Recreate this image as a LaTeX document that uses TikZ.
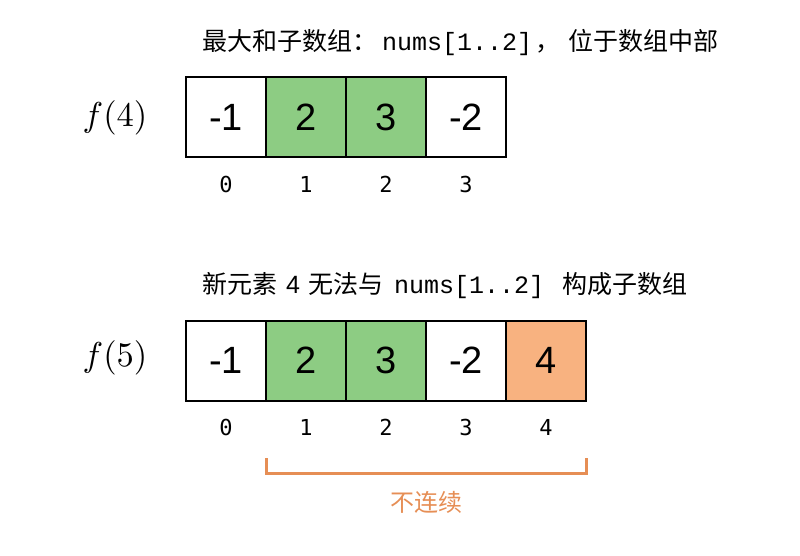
\documentclass[tikz,border=0pt]{standalone}
\usepackage[no-math]{fontspec}
\usepackage{graphicx}
\setmainfont{Liberation Sans}
\newfontfamily\cjk{Noto Sans CJK SC}
\newfontfamily\codefont{Liberation Mono}
\newfontfamily\idxfont{DejaVu Sans Mono}
\usetikzlibrary{positioning,calc}
\usepackage{color}
\definecolor{cellgreen}{RGB}{141,204,131}
\definecolor{cellorange}{RGB}{248,178,128}
\definecolor{gaporange}{RGB}{230,142,85}
\newcommand{\bigf}[1]{\scalebox{3.45}{$f(#1)$}}

\tikzset{
	cell/.style={draw,line width=2pt,minimum size=80pt,inner sep=0pt,font=\fontsize{38}{40}\selectfont},
	idx/.style={inner sep=0pt,font=\idxfont\fontsize{22}{24}\selectfont},
	title/.style={anchor=west,inner sep=0pt,font=\fontsize{25}{28}\selectfont},
	fname/.style={inner sep=0pt}
}

\begin{document}
\begin{tikzpicture}[x=1pt,y=-1pt]
	\useasboundingbox (0,0) rectangle (800,555);
	% f(4)
	\node (t4) at (202,43) [title] {\cjk 最大和子数组：\hspace{5pt}\codefont nums[1..2]\hspace{3pt}\cjk ，\hspace{8pt}位于数组中部};
	\node (f4) at (115,118) [fname] {\bigf{4}};
	\node (a0) at (226,117) [cell] {-1};
	\node (a1) at (306,117) [cell,fill=cellgreen] {2};
	\node (a2) at (386,117) [cell,fill=cellgreen] {3};
	\node (a3) at (466,117) [cell] {-2};
	\node (i0) at (226,184) [idx] {0};
	\node (i1) at (306,184) [idx] {1};
	\node (i2) at (386,184) [idx] {2};
	\node (i3) at (466,184) [idx] {3};
	% f(5)
	\node (t5) at (202,286) [title] {\cjk 新元素\hspace{9pt}\rmfamily 4\hspace{8pt}\cjk 无法与\hspace{11pt}\codefont nums[1..2]\hspace{18pt}\cjk 构成子数组};
	\node (f5) at (115,358) [fname] {\bigf{5}};
	\node (b0) at (226,360.5) [cell] {-1};
	\node (b1) at (306,360.5) [cell,fill=cellgreen] {2};
	\node (b2) at (386,360.5) [cell,fill=cellgreen] {3};
	\node (b3) at (466,360.5) [cell] {-2};
	\node (b4) at (546,360.5) [cell,fill=cellorange] {4};
	\node (j0) at (226,427) [idx] {0};
	\node (j1) at (306,427) [idx] {1};
	\node (j2) at (386,427) [idx] {2};
	\node (j3) at (466,427) [idx] {3};
	\node (j4) at (546,427) [idx] {4};
	% gap
	\coordinate (gl) at (266,458);
	\coordinate (gr) at (586,458);
	\draw[gaporange,line width=3pt] (gl)--++(0,15)-|(gr);
	\node (gap) at (426,502) [inner sep=0pt,text=gaporange,font=\cjk\fontsize{24}{26}\selectfont] {不连续};
\end{tikzpicture}
\end{document}
